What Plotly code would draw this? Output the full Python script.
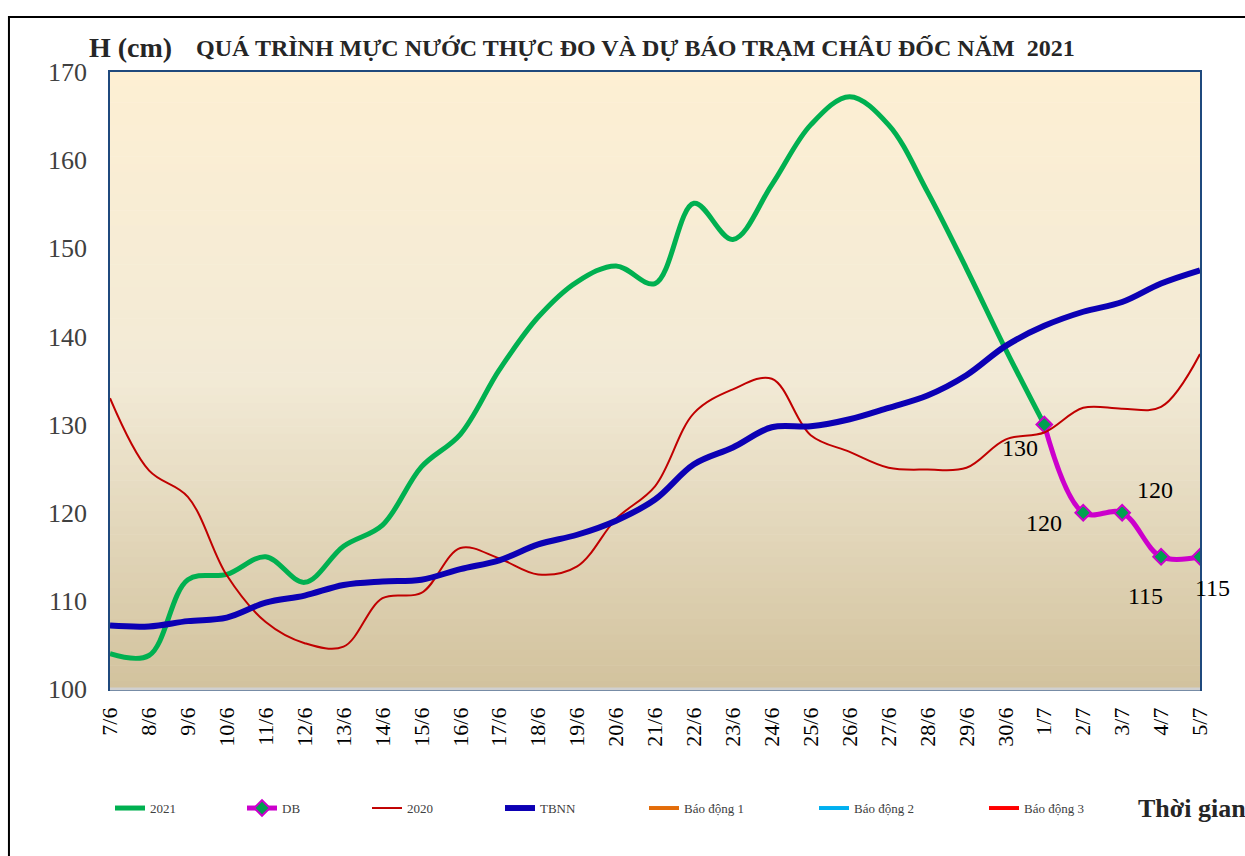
import plotly.graph_objects as go

days = ["7/6", "8/6", "9/6", "10/6", "11/6", "12/6", "13/6", "14/6", "15/6", "16/6",
        "17/6", "18/6", "19/6", "20/6", "21/6", "22/6", "23/6", "24/6", "25/6", "26/6",
        "27/6", "28/6", "29/6", "30/6", "1/7", "2/7", "3/7", "4/7", "5/7"]

h2021 = [104.0, 103.8, 112.4, 113.0, 115.0, 112.1, 116.2, 118.6, 125.2, 128.9,
         136.2, 142.2, 146.2, 148.0, 146.0, 155.1, 151.0, 157.2, 164.0, 167.2,
         164.0, 156.4, 147.7, 138.6, 130.0]

db_days = ["1/7", "2/7", "3/7", "4/7", "5/7"]
db_vals = [130, 120, 120, 115, 115]

h2020 = [133.0, 124.8, 121.8, 112.9, 107.6, 105.2, 104.8, 110.3, 110.9, 116.0,
         114.8, 113.0, 113.9, 119.3, 123.0, 131.3, 134.0, 135.2, 128.8, 126.9,
         125.1, 124.9, 125.1, 128.3, 129.1, 131.9, 131.8, 132.0, 138.0]

tbnn = [107.2, 107.1, 107.7, 108.1, 109.8, 110.6, 111.8, 112.2, 112.4, 113.6,
        114.6, 116.4, 117.5, 119.1, 121.5, 125.5, 127.4, 129.7, 129.8, 130.6,
        131.9, 133.3, 135.6, 138.9, 141.2, 142.8, 143.9, 146.0, 147.5]

# alarm levels at Chau Doc (cm), far above the plotted range
alarm_names = ["Báo động 1", "Báo động 2", "Báo động 3"]
alarm_vals = [350, 400, 450]
alarm_colors = ["#E36C09", "#00B0F0", "#FF0000"]

# label offsets for forecast values (px)
db_shift = [(-24, -23), (-39, -10), (33, 23), (-16, -39), (12, -31)]

serif = "Liberation Serif, Times New Roman, serif"

fig = go.Figure()

fig.add_trace(go.Scatter(x=days[:len(h2021)], y=h2021, name="2021", mode="lines",
                         legendwidth=87,
                         line=dict(color="#00B050", width=5, shape="spline")))
fig.add_trace(go.Scatter(x=db_days, y=db_vals, name="DB", mode="lines+markers",
                         legendwidth=80,
                         line=dict(color="#CC00CC", width=5, shape="spline"),
                         marker=dict(symbol="diamond", size=12, color="#00A050",
                                     line=dict(color="#CC00CC", width=2))))
fig.add_trace(go.Scatter(x=days, y=h2020, name="2020", mode="lines",
                         legendwidth=88,
                         line=dict(color="#C00000", width=2, shape="spline")))
fig.add_trace(go.Scatter(x=days, y=tbnn, name="TBNN", mode="lines",
                         legendwidth=99,
                         line=dict(color="#0C00B4", width=6, shape="spline")))
for nm, v, c, lw in zip(alarm_names, alarm_vals, alarm_colors, [125, 125, 100]):
    fig.add_trace(go.Scatter(x=days, y=[v] * len(days), name=nm, mode="lines",
                             legendwidth=lw, line=dict(color=c, width=4)))

for d, v, (dx, dy) in zip(db_days, db_vals, db_shift):
    fig.add_annotation(x=d, y=v, text=str(v), showarrow=False, xshift=dx, yshift=dy,
                       font=dict(family=serif, size=24, color="black"))

# vertical gradient behind the plot area
shapes = []
n = 80
stops = [(0.0, (253, 239, 211)), (0.5, (242, 234, 214)), (1.0, (210, 194, 157))]
for i in range(n):
    t = (i + 0.5) / n
    for (a, ca), (b, cb) in zip(stops[:-1], stops[1:]):
        if a <= t <= b:
            f = (t - a) / (b - a)
            col = tuple(round(ca[k] + (cb[k] - ca[k]) * f) for k in range(3))
    shapes.append(dict(type="rect", xref="paper", yref="paper", x0=0, x1=1,
                       y0=1 - (i + 1) / n, y1=1 - i / n + 0.001, layer="below",
                       line=dict(width=0), fillcolor="rgb(%d,%d,%d)" % col))
shapes.append(dict(type="rect", xref="paper", yref="paper", x0=-0.0927, x1=1.046,
                   y0=-0.293, y1=1.089, line=dict(color="black", width=2)))
shapes.append(dict(type="line", xref="paper", yref="paper", x0=0, x1=1, y0=0, y1=0,
                   line=dict(color="#D0D0D0", width=3)))

fig.update_layout(
    width=1245, height=856,
    margin=dict(l=110, r=45, t=72, b=167),
    paper_bgcolor="white",
    plot_bgcolor="rgba(0,0,0,0)",
    shapes=shapes,
    showlegend=True,
    legend=dict(orientation="h", x=0.0, y=-0.193, xanchor="left", yanchor="middle",
                font=dict(family=serif, size=13, color="#404040"),
                bgcolor="rgba(0,0,0,0)"),
    xaxis=dict(type="category", categoryorder="array", categoryarray=days,
               range=[0, len(days) - 1], tickangle=-90, showgrid=False,
               showline=True, linecolor="#1F497D", linewidth=1.5, mirror=True,
               ticks="", ticklabelstandoff=8,
               tickfont=dict(family=serif, size=22, color="black")),
    yaxis=dict(range=[100, 170], dtick=10, showgrid=False, zeroline=False,
               showline=True, linecolor="#1F497D", linewidth=1.5, mirror=True,
               ticks="", ticklabelstandoff=16,
               tickfont=dict(family=serif, size=26, color="#404040")),
    annotations=list(fig.layout.annotations) + [
        dict(text="<b>QUÁ TRÌNH MỰC NƯỚC THỰC ĐO VÀ DỰ BÁO TRẠM CHÂU ĐỐC NĂM  2021</b>",
             xref="paper", yref="paper", x=0.482, y=1.039, yanchor="middle",
             showarrow=False, font=dict(family=serif, size=24, color="#262626")),
        dict(text="<b>H (cm)</b>", xref="paper", yref="paper", x=-0.021, y=1.039,
             yanchor="middle", showarrow=False,
             font=dict(family=serif, size=28, color="#262626")),
        dict(text="<b>Thời gian</b>", xref="paper", yref="paper", x=1.044, y=-0.193,
             xanchor="right", yanchor="middle", showarrow=False,
             font=dict(family=serif, size=26, color="#262626")),
    ],
)

fig.write_html("out.html", config={"displayModeBar": False},
               post_script="document.body.style.margin='0px';")
